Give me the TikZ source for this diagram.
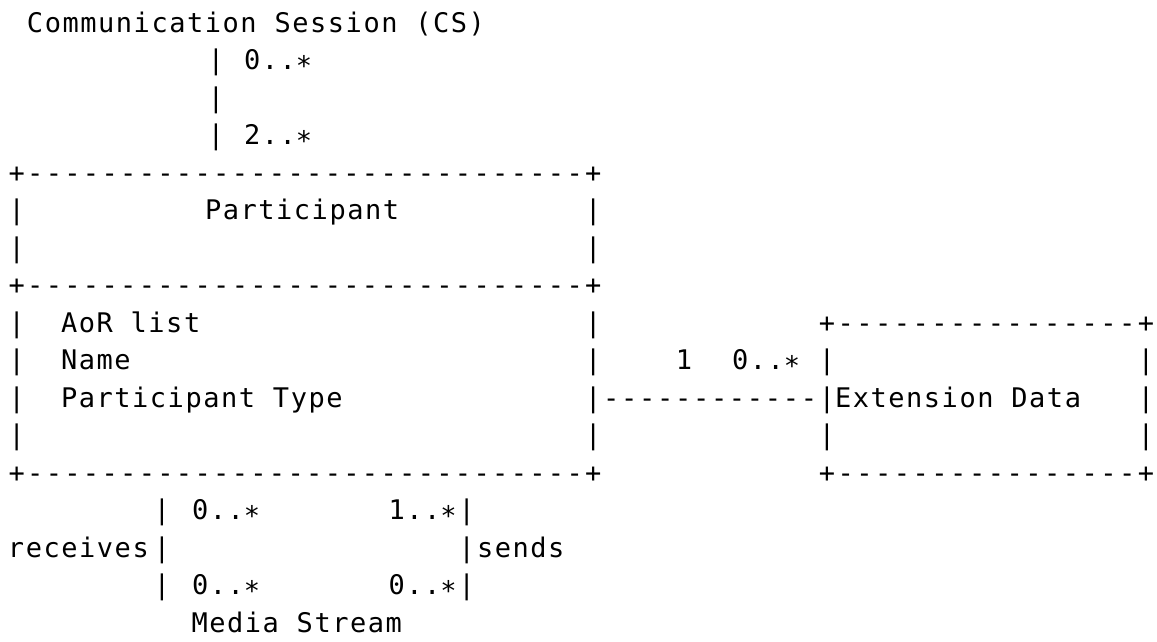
\documentclass[tikz,border=0pt]{standalone}
\usepackage{fontspec}
\newfontfamily\monot[LetterSpace=5.7]{DejaVu Sans Mono}
\newfontfamily\monoc{DejaVu Sans Mono}
\newcommand\st{\raisebox{-5.5pt}{*}}
\newcommand\zw[1]{\makebox[0pt]{#1}}
\newcommand\dashrun[5]{% name, x1, x2, count, baseline
  \pgfmathsetmacro\dstep{(#3-#2)/(#4+1)}%
  \foreach \i in {1,...,#4}{\node[ch] (#1\i) at ({#2+\i*\dstep},#5) {\zw{-}};}}
\tikzset{
  txt/.style={font={\monot\fontsize{27}{27}\selectfont}, anchor=base west, inner sep=0pt, outer sep=0pt},
  ch/.style={font={\monoc\fontsize{27}{27}\selectfont}, anchor=base, inner sep=0pt, outer sep=0pt},
}
\begin{document}
\begin{tikzpicture}[x=1pt,y=-1pt]
\useasboundingbox (0,0) rectangle (1157,641);
% Communication Session
\node[txt] (cs) at (27,32) {Communication Session (CS)};
\node[ch] (v1) at (216,69.5) {|};
\node[txt] (m1) at (244,69.5) {0..\st};
\node[ch] (v2) at (216,107) {|};
\node[ch] (v3) at (216,144.5) {|};
\node[txt] (m2) at (244,144.5) {2..\st};
% Participant box
\node[ch] (p4a) at (16.7,182) {\zw{+}};
\dashrun{p4d}{16.7}{593.3}{30}{182}
\node[ch] (p4b) at (593.3,182) {\zw{+}};
\node[ch] (p5a) at (16.7,219.5) {\zw{|}};
\node[txt] (ptitle) at (205,219.5) {Participant};
\node[ch] (p5b) at (593.3,219.5) {|};
\node[ch] (p6a) at (16.7,257) {\zw{|}};
\node[ch] (p6b) at (593.3,257) {|};
\node[ch] (p7a) at (16.7,294.5) {\zw{+}};
\dashrun{p7d}{16.7}{593.3}{30}{294.5}
\node[ch] (p7b) at (593.3,294.5) {\zw{+}};
\node[ch] (p8a) at (16.7,332) {\zw{|}};
\node[txt] (aor) at (61,332) {AoR list};
\node[ch] (p8b) at (593.3,332) {|};
\node[ch] (p9a) at (16.7,369.5) {\zw{|}};
\node[txt] (name) at (61,369.5) {Name};
\node[ch] (p9b) at (593.3,369.5) {|};
\node[ch] (p10a) at (16.7,407) {\zw{|}};
\node[txt] (ptype) at (61,407) {Participant Type};
\node[ch] (p10b) at (593.3,407) {\zw{|}};
\node[ch] (p11a) at (16.7,444.5) {\zw{|}};
\node[ch] (p11b) at (593.3,444.5) {|};
\node[ch] (p12a) at (16.7,482) {\zw{+}};
\dashrun{p12d}{16.7}{593.3}{30}{482}
\node[ch] (p12b) at (593.3,482) {\zw{+}};
% Extension Data box
\node[ch] (e8a) at (827,332) {\zw{+}};
\dashrun{e8d}{827}{1146}{16}{332}
\node[ch] (e8b) at (1146,332) {\zw{+}};
\node[ch] (e9a) at (827,369.5) {\zw{|}};
\node[ch] (e9b) at (1146,369.5) {\zw{|}};
\node[ch] (e10a) at (827,407) {\zw{|}};
\node[txt] (ext) at (835,407) {Extension Data};
\node[ch] (e10b) at (1146,407) {\zw{|}};
\node[ch] (e11a) at (827,444.5) {\zw{|}};
\node[ch] (e11b) at (1146,444.5) {\zw{|}};
\node[ch] (e12a) at (827,482) {\zw{+}};
\dashrun{e12d}{827}{1146}{16}{482}
\node[ch] (e12b) at (1146,482) {\zw{+}};
% association Participant -- Extension Data
\dashrun{cd}{593.3}{827}{12}{407}
\node[ch] (one) at (684,369.5) {1};
\node[txt] (m3) at (732,369.5) {0..\st};
% Media Stream
\node[ch] (r13) at (162,519.5) {|};
\node[txt] (m4) at (192,519.5) {0..\st};
\node[txt] (m5) at (388.6,519.5) {1..\st};
\node[ch] (s13) at (466.7,519.5) {\zw{|}};
\node[txt] (recv) at (8,557) {receives};
\node[ch] (r14) at (162,557) {\zw{|}};
\node[ch] (s14) at (466.7,557) {\zw{|}};
\node[txt] (sends) at (477,557) {sends};
\node[ch] (r15) at (162,594.5) {|};
\node[txt] (m6) at (192,594.5) {0..\st};
\node[txt] (m7) at (388.6,594.5) {0..\st};
\node[ch] (s15) at (466.7,594.5) {\zw{|}};
\node[txt] (media) at (191.5,632) {Media Stream};
\end{tikzpicture}
\end{document}
